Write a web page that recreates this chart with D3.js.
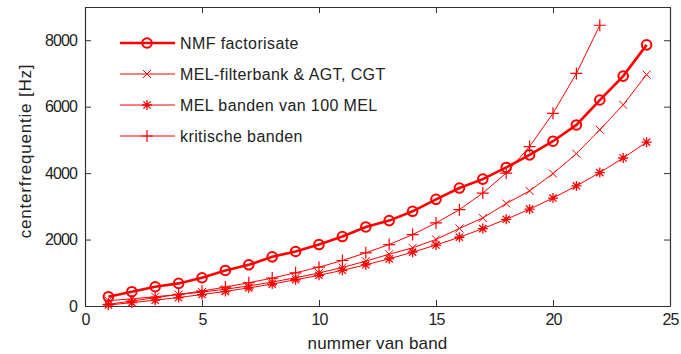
<!DOCTYPE html>
<html>
<head>
<meta charset="utf-8">
<script src="https://cdn.jsdelivr.net/npm/d3@7/dist/d3.min.js"></script>
<style>
  body { margin: 0; background: #fff; }
  svg text { font-family: "Liberation Sans", Arial, sans-serif; fill: #222; }
</style>
</head>
<body>
<div id="chart"></div>
<script>
// band numbers and centre frequencies
const bands = d3.range(1, 25);
const nmf = [280, 430, 580, 680, 850, 1070, 1240, 1480, 1640, 1850, 2090, 2380,
             2570, 2850, 3210, 3550, 3820, 4170, 4550, 4960, 5450, 6200, 6920, 7860];
const melFilterbank = [160, 215, 280, 345, 420, 505, 605, 720, 850, 995, 1160, 1350,
                       1560, 1750, 2005, 2335, 2650, 3085, 3465, 3985, 4585, 5305, 6055, 6965];
const mel100 = [30, 100, 175, 255, 345, 440, 545, 660, 790, 925, 1075, 1240,
                1420, 1620, 1835, 2070, 2330, 2610, 2915, 3250, 3615, 4015, 4455, 4930];
const kritisch = [50, 150, 250, 350, 450, 570, 700, 840, 1000, 1170, 1370, 1600,
                  1850, 2150, 2500, 2900, 3400, 4000, 4800, 5800, 7000, 8450];
const xTicks = [0, 5, 10, 15, 20, 25];
const yTicks = [0, 2000, 4000, 6000, 8000];
const labels = ["NMF factorisate", "MEL-filterbank & AGT, CGT", "MEL banden van 100 MEL", "kritische banden"];

const width = 681, height = 354;
const margin = {left: 85, right: 11, top: 7, bottom: 48};
const red = "#ff0000";

const svg = d3.select("#chart").append("svg")
    .attr("width", width)
    .attr("height", height);

const x = d3.scaleLinear().domain([0, 25]).range([margin.left, width - margin.right]);
const y = d3.scaleLinear().domain([0, 9000]).range([height - margin.bottom, margin.top]);

// axes, MATLAB style: box with inward ticks on all four sides
const tick = 6;
svg.append("g")
    .attr("transform", `translate(0,${y(0)})`)
    .call(d3.axisBottom(x).tickValues(xTicks).tickSizeInner(-tick).tickSizeOuter(0).tickPadding(8))
    .call(g => g.selectAll("text").style("font-size", "16px").style("letter-spacing", "-0.8px"));
svg.append("g")
    .attr("transform", `translate(0,${y(9000)})`)
    .call(d3.axisTop(x).tickValues(xTicks).tickSizeInner(-tick).tickSizeOuter(0).tickFormat(""));
svg.append("g")
    .attr("transform", `translate(${x(0)},0)`)
    .call(d3.axisLeft(y).tickValues(yTicks).tickSizeInner(-tick).tickSizeOuter(0).tickPadding(8).tickFormat(d3.format("d")))
    .call(g => g.selectAll("text").style("font-size", "16px").style("letter-spacing", "-0.9px"));
svg.append("g")
    .attr("transform", `translate(${x(25)},0)`)
    .call(d3.axisRight(y).tickValues(yTicks).tickSizeInner(-tick).tickSizeOuter(0).tickFormat(""));
svg.selectAll(".domain").attr("stroke", "#333").attr("stroke-width", 1.2);
svg.selectAll(".tick line").attr("stroke", "#333");
svg.selectAll(".tick text").attr("fill", "#222");

svg.append("text")
    .attr("x", (x(0) + x(25)) / 2)
    .attr("y", 349)
    .attr("text-anchor", "middle")
    .style("font-size", "17px")
    .style("letter-spacing", "0.2px")
    .text("nummer van band");
svg.append("text")
    .attr("transform", "translate(31,151) rotate(-90)")
    .attr("text-anchor", "middle")
    .style("font-size", "17px")
    .style("letter-spacing", "0.8px")
    .text("centerfrequentie [Hz]");

// marker shapes
function marker(g, kind) {
    if (kind === "o") {
        g.append("circle").attr("r", 4.8).attr("fill", "none").attr("stroke", red).attr("stroke-width", 2);
    } else if (kind === "x") {
        g.append("path").attr("d", "M-4,-4L4,4M-4,4L4,-4").attr("stroke", red).attr("stroke-width", 1);
    } else if (kind === "*") {
        g.append("path").attr("d", "M-5,0L5,0M0,-5L0,5M-3.6,-3.6L3.6,3.6M-3.6,3.6L3.6,-3.6")
            .attr("stroke", red).attr("stroke-width", 1.3);
    } else {
        g.append("path").attr("d", "M-6,0L6,0M0,-6L0,6").attr("stroke", red).attr("stroke-width", 1.2);
    }
}

const series = [
    {name: labels[0], values: nmf, kind: "o", lw: 2.6},
    {name: labels[1], values: melFilterbank, kind: "x", lw: 1},
    {name: labels[2], values: mel100, kind: "*", lw: 1},
    {name: labels[3], values: kritisch, kind: "+", lw: 1}
];

const line = d3.line().x(d => x(d.b)).y(d => y(d.v));

series.slice().reverse().forEach(s => {
    const pts = s.values.map((v, i) => ({b: bands[i], v: v}));
    svg.append("path")
        .attr("d", line(pts))
        .attr("fill", "none")
        .attr("stroke", red)
        .attr("stroke-width", s.lw);
    svg.selectAll(null)
        .data(pts)
        .enter()
        .append("g")
        .attr("transform", d => `translate(${x(d.b)},${y(d.v)})`)
        .each(function () { marker(d3.select(this), s.kind); });
});

// legend (no box)
const legend = svg.append("g");
series.forEach((s, i) => {
    const ly = 43 + i * 31;
    legend.append("line")
        .attr("x1", 120).attr("x2", 175)
        .attr("y1", ly).attr("y2", ly)
        .attr("stroke", red)
        .attr("stroke-width", s.lw);
    const m = legend.append("g").attr("transform", `translate(147,${ly})`);
    marker(m, s.kind);
    legend.append("text")
        .attr("x", 180)
        .attr("y", ly)
        .attr("dy", "0.35em")
        .style("font-size", "16px")
        .style("letter-spacing", "0.4px")
        .text(s.name);
});
</script>
</body>
</html>
